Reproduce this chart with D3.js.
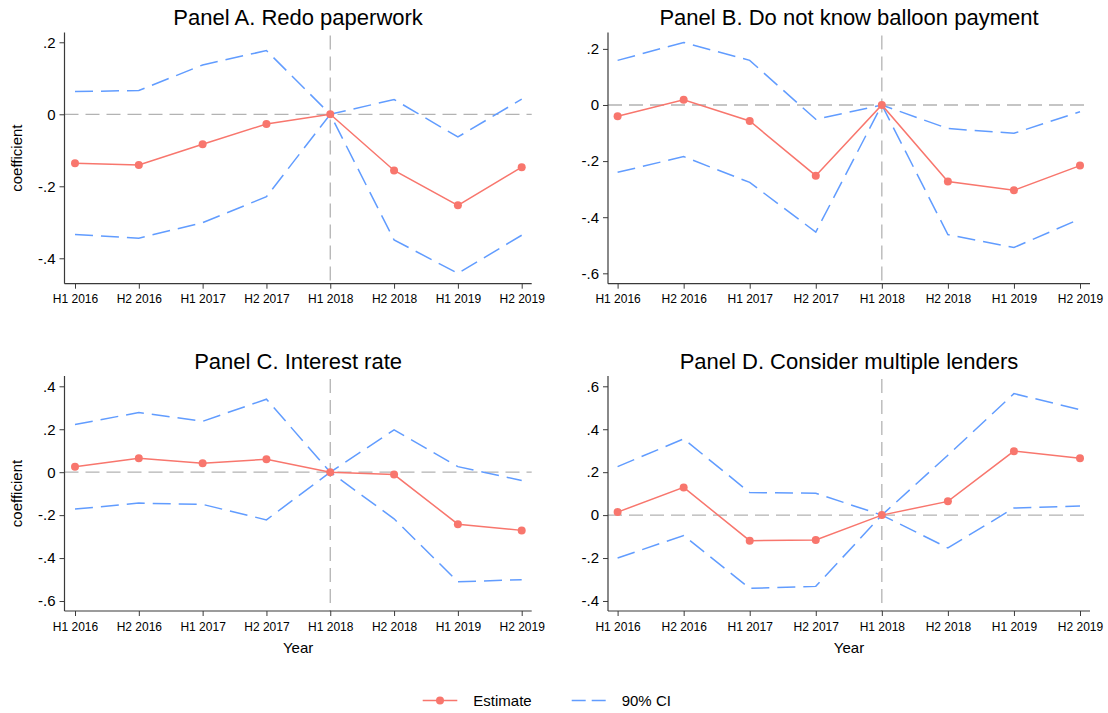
<!DOCTYPE html>
<html>
<head>
<meta charset="utf-8">
<script src="https://cdn.jsdelivr.net/npm/d3@7"></script>
<style>
  html, body { margin: 0; padding: 0; background: #ffffff; }
  svg { display: block; font-family: "Liberation Sans", Arial, sans-serif; }
</style>
</head>
<body>
<svg id="chart" width="1108" height="713"></svg>
<script>
// ---------------- DATA ----------------
const categories = ["H1 2016","H2 2016","H1 2017","H2 2017","H1 2018","H2 2018","H1 2019","H2 2019"];
const eventPeriod = "H1 2018";

const titles = ["Panel A. Redo paperwork", "Panel B. Do not know balloon payment",
                "Panel C. Interest rate", "Panel D. Consider multiple lenders"];

const estA = [-0.136, -0.141, -0.083, -0.027, 0, -0.156, -0.253, -0.147];
const hiA  = [ 0.063,  0.066,  0.137,  0.177, 0,  0.041, -0.063,  0.042];
const loA  = [-0.334, -0.344, -0.301, -0.229, 0, -0.349, -0.442, -0.336];

const estB = [-0.040,  0.019, -0.057, -0.252, 0, -0.273, -0.304, -0.216];
const hiB  = [ 0.159,  0.223,  0.159, -0.051, 0, -0.084, -0.101, -0.024];
const loB  = [-0.240, -0.184, -0.276, -0.453, 0, -0.462, -0.508, -0.406];

const estC = [ 0.025,  0.065,  0.042,  0.060, 0, -0.011, -0.242, -0.271];
const hiC  = [ 0.222,  0.278,  0.237,  0.340, 0,  0.197,  0.026, -0.039];
const loC  = [-0.172, -0.144, -0.150, -0.222, 0, -0.217, -0.510, -0.501];

const estD = [ 0.014,  0.129, -0.119, -0.116, 0,  0.064,  0.298,  0.265];
const hiD  = [ 0.226,  0.355,  0.105,  0.102, 0,  0.279,  0.566,  0.491];
const loD  = [-0.200, -0.095, -0.341, -0.332, 0, -0.153,  0.033,  0.042];

const ticksA = [0.2, 0, -0.2, -0.4];
const ticksB = [0.2, 0, -0.2, -0.4, -0.6];
const ticksC = [0.4, 0.2, 0, -0.2, -0.4, -0.6];
const ticksD = [0.6, 0.4, 0.2, 0, -0.2, -0.4];

const domainA = [-0.4706, 0.2272];
const domainB = [-0.637, 0.2584];
const domainC = [-0.6465, 0.448];
const domainD = [-0.4467, 0.648];

const legendLabels = ["Estimate", "90% CI"];
const yTitle = "coefficient";
const xTitle = "Year";

// ---------------- STYLE / LAYOUT ----------------
const RED = "#F8766D", BLUE = "#619CFF", REF = "#b3b3b3", AXIS = "#3a3a3a";
const FONT = "\"Liberation Sans\", Arial, sans-serif";

const panels = [
  { title: titles[0], est: estA, hi: hiA, lo: loA, ticks: ticksA, domain: domainA,
    left: 64.5, right: 531.7, top: 32.5, bottom: 283.7, x0: 75, x1: 521.7, yTitle: true, xTitle: false },
  { title: titles[1], est: estB, hi: hiB, lo: loB, ticks: ticksB, domain: domainB,
    left: 608, right: 1090, top: 32.5, bottom: 283.7, x0: 617.6, x1: 1080, yTitle: false, xTitle: false },
  { title: titles[2], est: estC, hi: hiC, lo: loC, ticks: ticksC, domain: domainC,
    left: 64.5, right: 531.7, top: 376, bottom: 611, x0: 75, x1: 521.7, yTitle: true, xTitle: true },
  { title: titles[3], est: estD, hi: hiD, lo: loD, ticks: ticksD, domain: domainD,
    left: 608, right: 1090, top: 376, bottom: 611, x0: 617.6, x1: 1080, yTitle: false, xTitle: true }
];

function fmt(v) {
  if (Math.abs(v) < 1e-9) return "0";
  const s = String(Math.abs(+v.toFixed(3))).replace(/^0/, "");
  return (v < 0 ? "-" : "") + s;
}

const svg = d3.select("#chart");

panels.forEach(p => {
  const g = svg.append("g");
  const x = d3.scalePoint().domain(categories).range([p.x0, p.x1]).padding(0);
  const y = d3.scaleLinear().domain(p.domain).range([p.bottom, p.top]);

  // reference lines
  g.append("line")
    .attr("x1", p.left).attr("x2", p.right)
    .attr("y1", y(0)).attr("y2", y(0))
    .attr("stroke", REF).attr("stroke-width", 1.3).attr("stroke-dasharray", "14,7");
  g.append("line")
    .attr("x1", x(eventPeriod)).attr("x2", x(eventPeriod))
    .attr("y1", p.top + 3).attr("y2", p.bottom)
    .attr("stroke", REF).attr("stroke-width", 1.3).attr("stroke-dasharray", "14,7");

  // CI lines
  const line = d3.line().x((d, i) => x(categories[i])).y(d => y(d));
  [p.hi, p.lo].forEach(arr => {
    g.append("path").datum(arr)
      .attr("d", line)
      .attr("fill", "none").attr("stroke", BLUE).attr("stroke-width", 1.5)
      .attr("stroke-dasharray", "18,8");
  });

  // estimate
  g.append("path").datum(p.est)
    .attr("d", line)
    .attr("fill", "none").attr("stroke", RED).attr("stroke-width", 1.5);
  g.selectAll("circle.est").data(p.est).enter().append("circle")
    .attr("class", "est")
    .attr("cx", (d, i) => x(categories[i])).attr("cy", d => y(d))
    .attr("r", 4).attr("fill", RED);

  // axes
  const yAxis = d3.axisLeft(y).tickValues(p.ticks).tickFormat(fmt).tickSize(5).tickSizeOuter(0).tickPadding(4);
  const ya = g.append("g").attr("transform", `translate(${p.left},0)`).call(yAxis);
  ya.select(".domain").remove();
  ya.selectAll(".tick line").attr("stroke", AXIS);
  ya.selectAll(".tick text").attr("font-family", FONT).attr("font-size", 15).attr("fill", "#000");

  const xAxis = d3.axisBottom(x).tickSize(5).tickSizeOuter(0).tickPadding(6);
  const xa = g.append("g").attr("transform", `translate(0,${p.bottom})`).call(xAxis);
  xa.select(".domain").remove();
  xa.selectAll(".tick line").attr("stroke", AXIS);
  xa.selectAll(".tick text").attr("font-family", FONT).attr("font-size", 12).attr("fill", "#000");

  // axis lines
  g.append("line").attr("x1", p.left).attr("x2", p.left).attr("y1", p.top).attr("y2", p.bottom)
    .attr("stroke", AXIS).attr("stroke-width", 1.2);
  g.append("line").attr("x1", p.left).attr("x2", p.right).attr("y1", p.bottom).attr("y2", p.bottom)
    .attr("stroke", AXIS).attr("stroke-width", 1.2);

  // title
  g.append("text")
    .attr("x", (p.left + p.right) / 2).attr("y", p.top - 7.5)
    .attr("text-anchor", "middle").attr("font-family", FONT).attr("font-size", 22)
    .attr("fill", "#000").text(p.title);

  if (p.yTitle) {
    const cy = (p.top + p.bottom) / 2;
    g.append("text")
      .attr("transform", `translate(22,${cy}) rotate(-90)`)
      .attr("text-anchor", "middle").attr("font-family", FONT).attr("font-size", 15)
      .attr("fill", "#000").text(yTitle);
  }
  if (p.xTitle) {
    g.append("text")
      .attr("x", (p.left + p.right) / 2).attr("y", p.bottom + 42)
      .attr("text-anchor", "middle").attr("font-family", FONT).attr("font-size", 15)
      .attr("fill", "#000").text(xTitle);
  }
});

// legend
const lg = svg.append("g");
const ly = 700.5;
lg.append("line").attr("x1", 422.7).attr("x2", 457.3).attr("y1", ly).attr("y2", ly)
  .attr("stroke", RED).attr("stroke-width", 1.5);
lg.append("circle").attr("cx", 440).attr("cy", ly).attr("r", 4).attr("fill", RED);
lg.append("text").attr("x", 473.3).attr("y", ly + 5.5).attr("font-family", FONT).attr("font-size", 15)
  .attr("fill", "#000").text(legendLabels[0]);
lg.append("line").attr("x1", 571.7).attr("x2", 605.7).attr("y1", ly).attr("y2", ly)
  .attr("stroke", BLUE).attr("stroke-width", 1.5).attr("stroke-dasharray", "14,6");
lg.append("text").attr("x", 621.7).attr("y", ly + 5.5).attr("font-family", FONT).attr("font-size", 15)
  .attr("fill", "#000").text(legendLabels[1]);
</script>
</body>
</html>
